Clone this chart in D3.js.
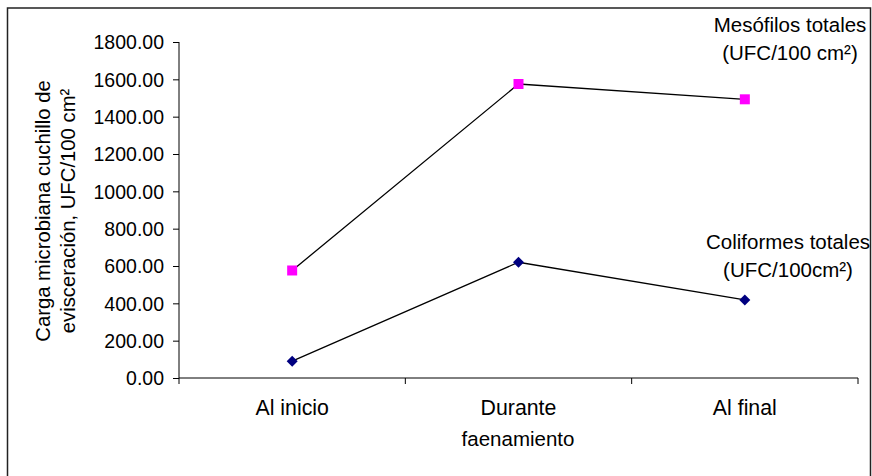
<!DOCTYPE html>
<html>
<head>
<meta charset="utf-8">
<script src="https://cdn.jsdelivr.net/npm/d3@7"></script>
<style>
	body { margin: 0; background: #fff; }
	text { font-family: "Liberation Sans", Arial, sans-serif; fill: #000; }
</style>
</head>
<body>
<svg id="chart" width="872" height="476"></svg>
<script>
"use strict";

//
//	Chart values
//
var categories = ["Al inicio", "Durante", "Al final"];
var mesofilos = [576, 1575, 1493];
var coliformes = [90, 620, 418];
var yTicks = [0, 200, 400, 600, 800, 1000, 1200, 1400, 1600, 1800];

var svg = d3.select("#chart");

// outer frame
svg.append("rect")
	.attr("x", 7.5).attr("y", 8)
	.attr("width", 863).attr("height", 475)
	.attr("fill", "none").attr("stroke", "#222").attr("stroke-width", 1.5);

var x = d3.scaleBand().domain(categories).range([179, 858]).padding(0);
var y = d3.scaleLinear().domain([0, 1800]).range([378, 42]);

//
//	Axes
//
var yAxis = svg.append("g")
	.attr("transform", "translate(179,0)")
	.call(d3.axisLeft(y).tickValues(yTicks).tickFormat(d3.format(".2f")).tickSize(6).tickPadding(9));
yAxis.select(".domain").attr("d", "M0,42V384");
yAxis.selectAll("text").style("font-size", "19.5px").attr("dy", "0.35em");

var xAxis = svg.append("g").attr("transform", "translate(0,378)");
xAxis.append("line").attr("x1", 179).attr("x2", 858).attr("stroke", "#000");
xAxis.selectAll("line.tick")
	.data(categories)
	.enter().append("line")
	.attr("class", "tick")
	.attr("x1", function(d){ return x(d) + x.bandwidth(); })
	.attr("x2", function(d){ return x(d) + x.bandwidth(); })
	.attr("y1", 0).attr("y2", 6)
	.attr("stroke", "#000");
xAxis.selectAll("text")
	.data(categories)
	.enter().append("text")
	.attr("x", function(d){ return x(d) + x.bandwidth() / 2; })
	.attr("y", 37)
	.attr("text-anchor", "middle")
	.style("font-size", "21.3px")
	.text(function(d){ return d; });

svg.selectAll(".domain, .tick line").attr("stroke", "#000");

// axis titles
svg.append("text")
	.attr("x", 518).attr("y", 446)
	.attr("text-anchor", "middle")
	.style("font-size", "20.5px")
	.text("faenamiento");

var yTitle = svg.append("text")
	.attr("transform", "translate(50,211) rotate(-90)")
	.attr("text-anchor", "middle")
	.style("font-size", "20.3px");
yTitle.append("tspan").attr("x", 0).attr("y", 0).text("Carga microbiana cuchillo de");
yTitle.append("tspan").attr("x", 0).attr("y", 25).text("evisceración, UFC/100 cm²");

//
//	Series lines and markers
//
var line = d3.line()
	.x(function(d, i){ return x(categories[i]) + x.bandwidth() / 2; })
	.y(function(d){ return y(d); });

function drawSeries(values, shape, colour) {
	svg.append("path")
		.datum(values)
		.attr("d", line)
		.attr("fill", "none")
		.attr("stroke", "#000")
		.attr("stroke-width", 1.3);
	svg.append("g").selectAll("path")
		.data(values)
		.enter().append("path")
		.attr("transform", function(d, i){
			return "translate(" + (x(categories[i]) + x.bandwidth() / 2) + "," + y(d) + ")";
		})
		.attr("d", shape)
		.attr("fill", colour);
}

drawSeries(mesofilos, "M-5,-5H5V5H-5Z", "#ff00ff");
drawSeries(coliformes, "M0,-5.5L5.5,0L0,5.5L-5.5,0Z", "#000080");

//
//	Series labels
//
function createLabel(lines, cx, y0) {
	var t = svg.append("text").attr("text-anchor", "middle").style("font-size", "20.5px");
	for (var n = 0; n < lines.length; n++) {
		t.append("tspan").attr("x", cx).attr("y", y0 + n * 28).text(lines[n]);
	}
}

createLabel(["Mesófilos totales", "(UFC/100 cm²)"], 790, 32);
createLabel(["Coliformes totales", "(UFC/100cm²)"], 788, 249);
</script>
</body>
</html>
